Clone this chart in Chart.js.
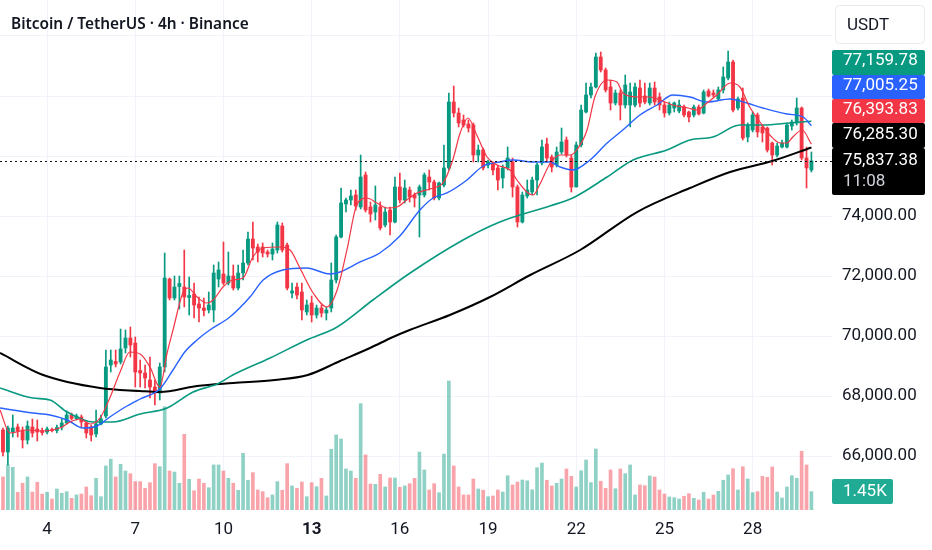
<!DOCTYPE html>
<html>
<head>
<meta charset="utf-8">
<script src="https://cdn.jsdelivr.net/npm/chart.js@4.4.0/dist/chart.umd.min.js"></script>
<style>
  html, body { margin: 0; padding: 0; background: #fff; }
</style>
</head>
<body>
<canvas id="graficoBTC" width="932" height="550"></canvas>
<script>
// velas de 4h, la primera es el dia 2 a las 12:00
const opens = [66867,66133,66800,66967,66867,66533,66967,66900,66850,66800,66880,66850,66967,67100,67367,67250,67300,67100,66967,66733,
  67067,67333,69033,69150,69133,69600,69933,69767,68850,68767,68533,68300,68100,68967,71900,71267,71650,71633,71280,71400,
  71067,70933,70867,70867,71900,72067,71767,72000,71600,72100,72433,73233,72967,72967,72800,72733,72867,73667,73033,71433,
  71633,71467,70800,71100,70700,70933,70767,70933,71867,73300,74400,74533,74700,74300,75367,74300,74133,74300,73700,74200,
  73800,74967,74533,74867,74700,74700,74700,75300,75133,74600,75033,75600,77800,77433,77200,77067,77033,76033,76200,75700,
  75767,75600,75267,75600,75800,74967,73800,74667,74800,75200,75767,76400,75967,75700,76133,76533,75933,74967,76367,77467,
  78033,78300,79300,78867,78300,77767,78100,77700,77700,77700,78267,78000,77767,78267,77967,77700,77433,77600,77500,77633,
  77467,77367,77633,77433,78167,78100,77900,78200,78600,79133,77600,77933,76633,76867,77367,76967,76933,76433,76033,76300,
  76300,77000,77100,77600,75933,75533];
const highs = [66933,67000,67367,67067,66967,67167,67233,67200,66933,66967,66933,67033,67233,67500,67433,67400,67367,67133,67033,67533,
  67367,69533,69533,69533,70233,70200,70300,69967,69200,69033,69300,68533,69100,72767,71933,72000,72000,72867,71967,71767,
  71300,71267,71467,72367,72467,73133,72800,72367,72367,72867,73467,73800,73067,73100,72867,73100,73800,73767,73100,71767,
  71767,71767,71200,71333,71033,71033,70967,72433,73367,74933,74600,74867,74867,76033,75467,74467,75000,74467,74300,74300,
  75300,75433,75200,74967,74767,75033,75433,75533,75200,75133,76367,78100,78333,77600,77367,77200,77100,76367,76267,75867,
  75800,75700,75700,76300,75933,75033,74800,75200,75300,75767,76533,76600,76033,76300,76933,76633,76033,76467,77700,78433,
  78433,79433,79467,78933,78533,78200,78200,78700,78433,78433,78533,78433,78433,78467,78100,77800,77800,77800,77867,77700,
  77500,77700,77700,78200,78233,78200,78300,78967,79500,79200,77967,78267,77100,77467,77433,77033,76967,76467,76433,76533,
  77100,77200,77933,77633,76300,76133];
const lows = [66000,65700,66633,66633,66267,66400,66633,66500,66700,66733,66800,66767,66867,67067,67200,67200,66967,66600,66500,66633,
  67033,67267,68800,68967,69067,69433,69300,68300,68300,68267,67933,67700,67867,68800,71200,71200,70900,70967,70700,70600,
  70467,70667,70767,70467,71633,71700,71700,71533,71533,71867,72367,72533,72467,72633,72633,72533,72767,72800,71533,71267,
  71233,70533,70700,70467,70600,70633,70533,70800,71767,73267,74133,74367,74200,74233,74133,73800,73867,73533,73633,73367,
  73767,74433,74433,74467,74300,73300,74633,74867,74533,74533,74967,75533,77300,76967,76967,76800,75800,75800,75533,75600,
  75367,74867,74933,75533,74633,73633,73767,74600,74700,74700,75700,75800,75467,75633,76067,75967,74800,74967,76300,77433,
  77933,78267,78800,78133,77533,77700,77200,77600,76967,77633,77633,77733,77700,77700,77533,77300,77367,77467,77433,77300,
  77133,77300,77367,77400,77967,77967,77867,78100,78533,77467,77533,76533,76467,76800,76633,76467,76133,75700,75967,76267,
  76267,76867,77033,75867,74933,75467];
const closes = [66133,66933,66933,66833,66533,67000,66767,66800,66780,66900,66850,66950,67100,67367,67250,67333,67133,66767,66700,67067,
  67233,68967,69200,69067,69567,69933,69700,68800,68767,68600,68300,68100,68967,71933,71267,71633,71750,71300,71350,71033,
  70933,70850,71033,72100,72200,71767,72000,71600,72100,72433,73233,72933,72800,72767,72733,72900,73700,72867,71600,71500,
  71367,70867,71033,70700,70933,70767,70867,71867,73300,74433,74533,74667,74333,75300,74200,74067,74367,73600,74133,73800,
  74967,74533,74933,74633,74600,74967,75367,75133,74600,75100,75600,77800,77433,77100,77033,76933,76033,76200,75600,75800,
  75533,75200,75600,75933,74967,73800,74700,74867,75200,75700,76300,75933,75633,76133,76467,76033,74967,76367,77533,78033,
  78300,79300,78867,78200,77767,78100,77700,78367,78133,78300,77767,77800,78267,77800,77700,77433,77700,77767,77700,77367,
  77300,77633,77400,78133,78000,78033,78200,78633,79133,77533,77900,76600,77033,77367,76800,76767,76200,76033,76333,76433,
  77033,77133,77600,75933,75600,75837.38];
const volumes = [2610,3560,3370,1400,2110,2610,1420,2190,1260,1400,870,1660,1320,1450,920,1190,1260,1820,1130,2500,
  1050,3480,4010,2610,3610,3080,2870,2240,2240,1710,2160,3660,3420,8160,3080,3000,2110,5980,2430,1520,
  2450,2110,1760,3560,3560,3080,2500,2110,1560,4480,2350,2950,1580,1450,970,1190,2240,1560,3660,1900,
  1710,2210,1050,2160,1840,2500,1110,4800,5930,5610,3240,3080,2500,8400,4350,2050,2030,2820,1820,2530,
  2530,1790,1900,2080,2500,4580,3160,1580,2080,1370,4420,10190,3480,1820,1190,1190,2450,1660,1560,1050,
  1110,1580,1420,2710,1980,2210,2370,2310,1600,3340,3710,2350,1900,2110,2450,3240,2660,1820,3100,3950,
  2160,4820,2270,1710,3160,1680,3240,2870,3560,1190,1980,1920,2690,2610,1580,1260,1030,970,870,1080,
  1290,920,790,1400,870,1190,1480,2350,2770,3260,1580,3420,2450,1370,1450,2660,2580,3400,1420,950,
  1820,2710,2500,4640,3560,1450];

// medias moviles (posicion en velas, precio)
const maRojaX = [-0.6,1.4,4.9,8.2,11.6,13.7,15.7,17.8,19.8,21.8,23.9,25.9,28,30,32,33.5,34.7,36.7,37.8,39.6,41.6,42.9,44.9,46.9,49,51,53.1,56.5,58.6,60.6,
  63.3,66.1,68.2,70.2,72.2,74.3,76.3,78.4,80.4,82.4,84.5,87.8,89.8,91.8,93.3,94.9,96.7,98.8,100.8,103.5,104.9,106.9,108.2,109.6,111.6,113.7,115.7,117.1,119.2,120.8,
  123.3,125.3,126.5,129.4,132,134.1,136.7,139.8,141.6,143.7,145.7,148.4,150.4,152.4,154.5,156.5,158.6,160,161.2,163.1,165];
const maRojaY = [67533,66767,66867,66833,66933,67133,67233,67067,67267,67933,68800,69467,69400,68967,68300,69433,70200,71433,71600,71300,71100,71200,71633,71867,71933,72633,72933,72967,72867,72267,
  71433,70967,71533,72867,74367,74600,74433,74267,74300,74533,74767,74933,75100,75867,76767,77267,76700,75967,75700,75533,75200,74800,74700,75067,75733,76033,76033,76200,76867,77967,
  78533,78467,78100,77967,77967,77867,77700,77600,77533,77767,78033,78433,78300,77633,77133,76700,76433,76433,76633,76867,76393.83];
const maAzulX = [-0.6,6.1,9.6,13.1,16.3,19.2,21.8,25.3,28,32,34.7,37.1,39.6,42.2,46.3,50.4,53.1,57.1,62,66.7,
  68.8,72.9,76.9,81,85.1,87.8,90.6,94.7,98,101.4,104.1,108.2,111.6,113.7,116.3,119.8,123.3,126.5,130,133.5,
  136.7,140.2,143.7,148.4,151.8,155.1,160,163.3,165];
const maAzulY = [67600,67433,67367,67200,66933,67000,67300,67667,67900,68233,68867,69467,69867,70200,70633,71300,71867,72200,72267,72067,
  72133,72467,72767,73333,74200,74600,74767,75200,75667,75800,75867,75800,75800,75633,75533,75867,76433,76867,77367,77700,
  78033,77967,77800,77900,77767,77600,77400,77300,77005.25];
const maVerdeX = [-0.6,6.1,9.6,13.1,18.4,22.4,28,33.5,38.8,43.7,46.9,54.5,62,68.2,75.5,83.1,93.9,101.4,111.6,116.3,
  123.3,128.6,135.5,140.2,144.9,150.4,155.1,160.6,165];
const maVerdeY = [68267,67933,67867,67467,67133,67133,67400,67600,68133,68400,68700,69267,69867,70300,71200,72100,73200,73800,74333,74600,
  75300,75867,76200,76533,76633,77033,77033,77100,77159.78];
const maNegraX = [-0.6,8.2,19.8,28,32,39.6,47,55.5,62.2,68.8,74.9,79.6,83,91.2,99.4,107.6,117.8,129.4,140.2,148.4,157,165];
const maNegraY = [69433,68700,68267,68167,68133,68333,68433,68533,68700,69167,69600,69967,70200,70700,71300,72033,72867,74133,74933,75467,75833,76285.30];

const tickDays = [4, 7, 10, 13, 16, 19, 22, 25, 28];
const priceTicks = [66000, 68000, 70000, 72000, 74000, 76000, 78000, 80000];
const firstDay = 2.5;        // dia 2, 12:00
const timeLeft = "11:08";
const volumeLabel = "1.45K";

const UP = "#089981";
const DOWN = "#f23645";
const FONT = "Roboto";
const TEXT = "#131722";
const GRID = "#f0f3fa";

const candleColors = closes.map((c, i) => c >= opens[i] ? UP : DOWN);
const volumeColors = closes.map((c, i) => c >= opens[i] ? "rgba(8,153,129,0.45)" : "rgba(242,54,69,0.45)");
const zip = (xs, ys) => xs.map((x, i) => ({ x: x, y: ys[i] }));
const fmt = v => v.toLocaleString("en-US", { minimumFractionDigits: 2, maximumFractionDigits: 2 });

const overlay = {
    id: "overlay",
    afterDatasetsDraw(chart) {
        const ctx = chart.ctx;
        const area = chart.chartArea;
        const py = chart.scales.y.getPixelForValue(closes[closes.length - 1]);
        ctx.save();
        ctx.strokeStyle = TEXT;
        ctx.lineWidth = 1;
        ctx.setLineDash([2, 3]);
        ctx.beginPath();
        ctx.moveTo(area.left, Math.round(py) + 0.5);
        ctx.lineTo(area.right, Math.round(py) + 0.5);
        ctx.stroke();
        ctx.restore();
    },
    afterDraw(chart) {
        const ctx = chart.ctx;
        ctx.save();
        // titulo
        ctx.fillStyle = TEXT;
        ctx.font = '600 15.4px "Noto Sans"';
        ctx.textBaseline = "alphabetic";
        ctx.fillText("Bitcoin / TetherUS · 4h · Binance", 11, 29);

        // caja USDT
        ctx.fillStyle = "#fff";
        ctx.strokeStyle = "#e9ebf0";
        ctx.beginPath();
        ctx.roundRect(835.5, 5.5, 89, 38, 4);
        ctx.fill();
        ctx.stroke();
        ctx.fillStyle = TEXT;
        ctx.font = "17px " + FONT;
        ctx.textBaseline = "middle";
        ctx.fillText("USDT", 847, 26);

        // etiquetas de precio
        const tags = [
            { text: fmt(maVerdeY[maVerdeY.length - 1]), color: UP, top: 50, h: 25, ty: 61 },
            { text: fmt(maAzulY[maAzulY.length - 1]), color: "#2962ff", top: 75, h: 24, ty: 86 },
            { text: fmt(maRojaY[maRojaY.length - 1]), color: DOWN, top: 99, h: 24, ty: 110 },
            { text: fmt(maNegraY[maNegraY.length - 1]), color: "#000", top: 123, h: 25, ty: 135 },
            { text: fmt(closes[closes.length - 1]), color: "#000", top: 148, h: 47, ty: 161, sub: timeLeft }
        ];
        tags.forEach(t => {
            ctx.fillStyle = t.color;
            ctx.beginPath();
            ctx.roundRect(832, t.top, 93, t.h, 2);
            ctx.fill();
            ctx.fillStyle = "#fff";
            ctx.fillText(t.text, 843, t.ty);
            if (t.sub) {
                ctx.fillStyle = "#d1d4dc";
                ctx.fillText(t.sub, 843, t.ty + 21);
            }
        });

        // etiqueta de volumen
        ctx.fillStyle = "#22ab94";
        ctx.beginPath();
        ctx.roundRect(832, 479, 61, 25, 2);
        ctx.fill();
        ctx.fillStyle = "#fff";
        ctx.fillText(volumeLabel, 843, 492);
        ctx.restore();
    }
};

const ctx = document.getElementById("graficoBTC").getContext("2d");
new Chart(ctx, {
    type: "bar",
    data: {
        datasets: [
            {
                type: "line", data: zip(maRojaX, maRojaY), borderColor: DOWN, borderWidth: 1.2,
                pointRadius: 0, cubicInterpolationMode: "monotone", order: 1
            },
            {
                type: "line", data: zip(maAzulX, maAzulY), borderColor: "#2962ff", borderWidth: 1.4,
                pointRadius: 0, cubicInterpolationMode: "monotone", order: 2
            },
            {
                type: "line", data: zip(maVerdeX, maVerdeY), borderColor: UP, borderWidth: 1.6,
                pointRadius: 0, cubicInterpolationMode: "monotone", order: 3
            },
            {
                type: "line", data: zip(maNegraX, maNegraY), borderColor: "#000", borderWidth: 2,
                pointRadius: 0, cubicInterpolationMode: "monotone", order: 4
            },
            {
                label: "Cuerpo", data: opens.map((o, i) => ({ x: i, y: [o, closes[i]] })),
                backgroundColor: candleColors, barThickness: 3.2, minBarLength: 1, grouped: false, order: 5
            },
            {
                label: "Mecha", data: lows.map((l, i) => ({ x: i, y: [l, highs[i]] })),
                backgroundColor: candleColors, barThickness: 1, grouped: false, order: 6
            },
            {
                label: "Volumen", data: volumes.map((v, i) => ({ x: i, y: v })), yAxisID: "yv",
                backgroundColor: volumeColors, barThickness: 3, grouped: false, order: 10
            }
        ]
    },
    options: {
        responsive: false,
        animation: false,
        layout: { padding: 0 },
        plugins: {
            legend: { display: false },
            tooltip: { enabled: false }
        },
        scales: {
            x: {
                type: "linear",
                min: -0.61,
                max: 169.2,
                offset: false,
                grid: { color: GRID, offset: false, drawTicks: false },
                border: { display: false },
                afterBuildTicks: scale => {
                    scale.ticks = tickDays.map(d => ({ value: (d - firstDay) * 6 }));
                },
                afterFit: scale => {
                    scale.height = 40;
                    scale.paddingLeft = 0;
                    scale.paddingRight = 0;
                },
                ticks: {
                    padding: 10,
                    color: TEXT,
                    maxRotation: 0,
                    autoSkip: false,
                    font: c => ({
                        family: FONT, size: 17,
                        weight: c.tick && c.tick.value === (13 - firstDay) * 6 ? "bold" : "normal"
                    }),
                    callback: v => String(v / 6 + firstDay)
                }
            },
            y: {
                position: "right",
                min: 64200,
                max: 81200,
                grid: { color: GRID, drawTicks: false },
                border: { display: false },
                afterBuildTicks: scale => {
                    scale.ticks = priceTicks.map(v => ({ value: v }));
                },
                afterFit: scale => {
                    scale.width = 100;
                    scale.paddingTop = 0;
                    scale.paddingBottom = 0;
                },
                ticks: {
                    padding: 10,
                    color: TEXT,
                    font: { family: FONT, size: 17 },
                    callback: v => v > 75000 ? "" : fmt(v)
                }
            },
            yv: {
                display: false,
                min: 0,
                max: 40290
            }
        }
    },
    plugins: [overlay]
});
</script>
</body>
</html>
